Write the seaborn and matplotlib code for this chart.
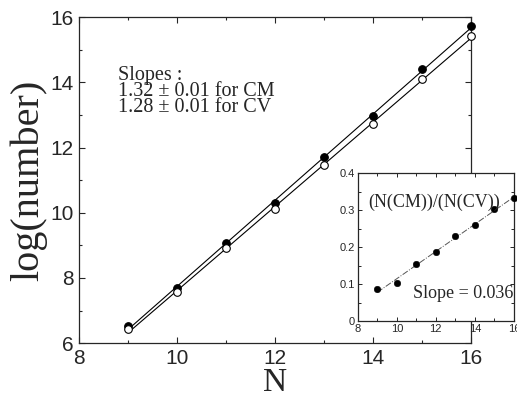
import numpy as np
import pandas as pd
import seaborn as sns
import matplotlib.pyplot as plt
from matplotlib.ticker import MultipleLocator, FuncFormatter

# values
n_values = [9, 10, 11, 12, 13, 14, 15, 16]
log_cm = [6.52, 7.69, 9.07, 10.30, 11.70, 12.96, 14.40, 15.72]
log_cv = [6.43, 7.56, 8.91, 10.10, 11.46, 12.72, 14.10, 15.42]
ratio = [0.086, 0.102, 0.155, 0.186, 0.230, 0.260, 0.303, 0.333]

slope_lines = ["Slopes :", "1.32 \u00b1 0.01 for CM", "1.28 \u00b1 0.01 for CV"]
ratio_label = "(N(CM))/(N(CV))"
ratio_slope = "Slope = 0.036"

df = pd.DataFrame({"N": n_values, "CM": log_cm, "CV": log_cv, "ratio": ratio})

sns.set_style("ticks")
plt.rcParams["font.family"] = ["Liberation Sans", "DejaVu Sans"]
serif = ["Liberation Serif", "DejaVu Serif"]

fig = plt.figure(figsize=(5.17, 3.99), dpi=100)
ax = fig.add_axes([0.153, 0.140, 0.758, 0.817])

# fitted lines and points
for col, face in [("CM", "black"), ("CV", "white")]:
    sns.regplot(data=df, x="N", y=col, ax=ax, scatter=False, ci=None, truncate=True,
                line_kws={"color": "black", "lw": 0.8})
    sns.scatterplot(data=df, x="N", y=col, ax=ax, color=face, edgecolor="black",
                    linewidth=0.8, s=30, zorder=3, clip_on=False)

ax.set_xlim(8, 16)
ax.set_ylim(6, 16)
ax.xaxis.set_major_locator(MultipleLocator(2))
ax.xaxis.set_minor_locator(MultipleLocator(1))
ax.yaxis.set_major_locator(MultipleLocator(2))
ax.yaxis.set_minor_locator(MultipleLocator(1))
ax.tick_params(which="both", direction="in", top=True, right=True, width=0.8)
ax.tick_params(which="major", length=4, labelsize=15, pad=4)
ax.tick_params(which="minor", length=2.5)
for sp in ax.spines.values():
    sp.set_linewidth(0.9)
ax.set_xlabel("N", family=serif, fontsize=24, labelpad=0)
ax.set_ylabel("log(number)", family=serif, fontsize=29, labelpad=2)

# one block of text, tightly spaced like the original
ax.text(0.0995, 0.849, "\n".join(slope_lines), transform=ax.transAxes, family=serif,
        fontsize=14.5, va="top", ha="left", linespacing=0.78)

# inset
ins = fig.add_axes([0.692, 0.195, 0.302, 0.371], zorder=5, facecolor="white")
sns.regplot(data=df, x="N", y="ratio", ax=ins, scatter=False, ci=None, truncate=True,
            line_kws={"color": "#555555", "lw": 0.7, "ls": "-."})
sns.scatterplot(data=df, x="N", y="ratio", ax=ins, color="black", edgecolor="black",
                s=22, zorder=3, clip_on=False)
ins.set_xlim(8, 16)
ins.set_ylim(0, 0.4)
ins.xaxis.set_major_locator(MultipleLocator(2))
ins.xaxis.set_minor_locator(MultipleLocator(1))
ins.yaxis.set_major_locator(MultipleLocator(0.1))
ins.yaxis.set_minor_locator(MultipleLocator(0.05))
ins.yaxis.set_major_formatter(FuncFormatter(lambda v, p: "0" if v == 0 else f"{v:.1f}"))
ins.tick_params(which="both", direction="in", top=True, right=True, width=0.7)
ins.tick_params(which="major", length=3, labelsize=8, pad=2)
ins.tick_params(which="minor", length=2)
for sp in ins.spines.values():
    sp.set_linewidth(0.9)
ins.set_xlabel("")
ins.set_ylabel("")
ins.text(11.9, 0.322, ratio_label, family=serif, fontsize=13, ha="center", va="center")
ins.text(15.95, 0.062, ratio_slope, family=serif, fontsize=13, ha="right", va="baseline")

fig.savefig("out.png", dpi=100)
